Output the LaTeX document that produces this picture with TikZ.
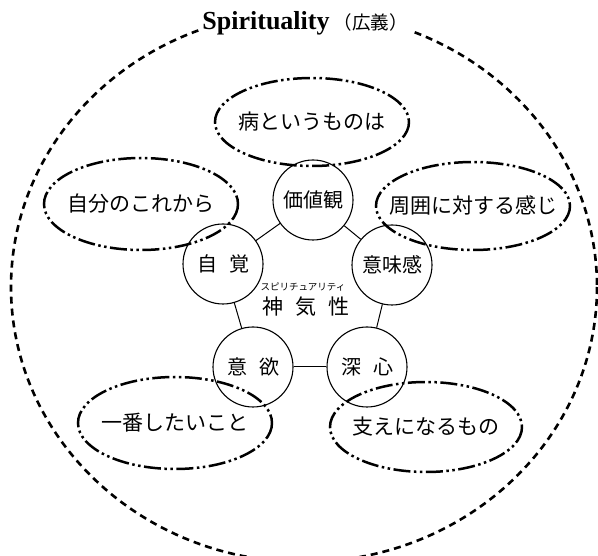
\documentclass[tikz,border=0pt]{standalone}
\usepackage{fontspec}
\newfontfamily\jp{Noto Sans CJK JP}
\newfontfamily\lser{Liberation Serif}
\begin{document}
\begin{tikzpicture}[x=1pt,y=-1pt,
  pent/.style={circle,draw,line width=1.1pt,minimum size=80pt,inner sep=0pt,
    font=\jp\fontsize{20}{20}\selectfont},
  ovaltext/.style={inner sep=0pt,font=\jp\fontsize{21}{21}\selectfont},
  ovalline/.style={line width=2.5pt,dash pattern=on 17pt off 3.5pt on 2.5pt off 3.5pt on 2.5pt off 3.5pt},
  outer/.style={line width=2.6pt,dash pattern=on 7pt off 5pt},
  link/.style={line width=1pt}]
\useasboundingbox (0,0) rectangle (598,556);
\clip (0,0) rectangle (598,556);
% outer boundary
\coordinate (oc) at (304,287);
\draw[outer] (oc) ellipse [x radius=293, y radius=275];
\node[fill=white,inner sep=3pt] (title) at (305,23)
  {\lser\bfseries\fontsize{26}{26}\selectfont Spirituality\hspace{4pt}{\jp\mdseries\fontsize{18.5}{18.5}\selectfont （広義）}};
% pentagon circles
\node[pent] (kachi) at (313,200) {価値観};
\node[pent] (jikaku) at (223,264) {自\hspace{0.6em}覚};
\node[pent] (imi) at (392,265) {意味感};
\node[pent] (iyoku) at (253,367) {意\hspace{0.6em}欲};
\node[pent] (shin) at (367,367) {深\hspace{0.6em}心};
\draw[link] (kachi) -- (jikaku);
\draw[link] (kachi) -- (imi);
\draw[link] (jikaku) -- (iyoku);
\draw[link] (imi) -- (shin);
\draw[link] (iyoku) -- (shin);
% centre
\node[inner sep=0pt,font=\jp\fontsize{9.5}{9.5}\selectfont] (ruby) at (303,287) {スピリチュアリティ};
\node[inner sep=0pt,font=\jp\fontsize{21}{21}\selectfont] (center) at (306,307) {神\hspace{12pt}気\hspace{12pt}性};
% ovals
\node[ovaltext] (o1) at (312,122) {病というものは};
\node[ovaltext] (o2) at (141,204) {自分のこれから};
\node[ovaltext] (o3) at (473,206) {周囲に対する感じ};
\node[ovaltext] (o4) at (175,423) {一番したいこと};
\node[ovaltext] (o5) at (426,427) {支えになるもの};
\draw[ovalline] (o1.center) ellipse [x radius=97, y radius=44];
\draw[ovalline] (o2.center) ellipse [x radius=97, y radius=46];
\draw[ovalline] (o3.center) ellipse [x radius=97, y radius=44];
\draw[ovalline] (o4.center) ellipse [x radius=97, y radius=46];
\draw[ovalline] (o5.center) ellipse [x radius=96, y radius=45];
\end{tikzpicture}
\end{document}
